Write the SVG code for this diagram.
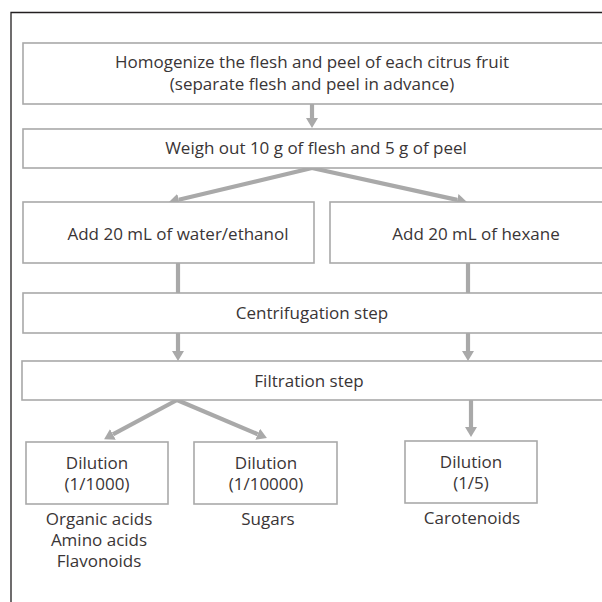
<svg xmlns="http://www.w3.org/2000/svg" width="602" height="602" viewBox="0 0 602 602">
<style>
.box{fill:#ffffff;stroke:#a9a9a9;stroke-width:1.6}
.t{font-family:"Open Sans","Liberation Sans",sans-serif;font-size:17px;fill:#3a3536;text-anchor:middle}
.c{stroke:#a9a9a9;stroke-width:4.2;fill:none}
.frame{stroke:#231f20;stroke-width:1.3;fill:none}
</style>
<defs>
<marker id="ah" markerUnits="userSpaceOnUse" viewBox="0 0 10 12" markerWidth="10" markerHeight="12" refX="0" refY="6" orient="auto">
<path d="M0,0 L10,6 L0,12 z" fill="#a9a9a9"/>
</marker>
</defs>
<rect width="602" height="602" fill="#ffffff"/>
<path class="frame" d="M11,602 V12.5 H602"/>
<g id="connectors">
<line class="c" x1="312" y1="104" x2="312" y2="118" marker-end="url(#ah)"/>
<line class="c" x1="312" y1="168" x2="178.7" y2="199.7" marker-end="url(#ah)"/>
<line class="c" x1="312" y1="168" x2="457.2" y2="199.9" marker-end="url(#ah)"/>
<line class="c" x1="178" y1="263" x2="178" y2="293"/>
<line class="c" x1="468" y1="263" x2="468" y2="293"/>
<line class="c" x1="178" y1="333" x2="178" y2="351" marker-end="url(#ah)"/>
<line class="c" x1="468" y1="333" x2="468" y2="351" marker-end="url(#ah)"/>
<line class="c" x1="177" y1="400" x2="112.9" y2="434.4" marker-end="url(#ah)"/>
<line class="c" x1="177" y1="400" x2="257.7" y2="434.2" marker-end="url(#ah)"/>
<line class="c" x1="471" y1="400" x2="471" y2="427" marker-end="url(#ah)"/>
</g>
<g id="homogenize">
<rect class="box" x="23" y="43" width="600" height="61"/>
<text class="t" x="312" y="68">Homogenize the flesh and peel of each citrus fruit</text>
<text class="t" x="312" y="90">(separate flesh and peel in advance)</text>
</g>
<g id="weigh">
<rect class="box" x="23" y="129" width="600" height="39"/>
<text class="t" x="316" y="154">Weigh out 10 g of flesh and 5 g of peel</text>
</g>
<g id="add-water-ethanol">
<rect class="box" x="23" y="202" width="291" height="61"/>
<text class="t" x="178" y="240">Add 20 mL of water/ethanol</text>
</g>
<g id="add-hexane">
<rect class="box" x="330" y="202" width="300" height="61"/>
<text class="t" x="476" y="240">Add 20 mL of hexane</text>
</g>
<g id="centrifugation">
<rect class="box" x="23" y="293" width="600" height="40"/>
<text class="t" x="312" y="319">Centrifugation step</text>
</g>
<g id="filtration">
<rect class="box" x="22" y="361" width="600" height="39"/>
<text class="t" x="309" y="387">Filtration step</text>
</g>
<g id="dilution-1000">
<rect class="box" x="26" y="442" width="142" height="62"/>
<text class="t" x="97" y="469">Dilution</text>
<text class="t" x="97" y="490">(1/1000)</text>
<text class="t" x="99" y="525">Organic acids</text>
<text class="t" x="99" y="546">Amino acids</text>
<text class="t" x="99" y="567">Flavonoids</text>
</g>
<g id="dilution-10000">
<rect class="box" x="194" y="442" width="143" height="62"/>
<text class="t" x="266" y="469">Dilution</text>
<text class="t" x="266" y="490">(1/10000)</text>
<text class="t" x="268" y="525">Sugars</text>
</g>
<g id="dilution-5">
<rect class="box" x="405" y="441" width="132" height="62"/>
<text class="t" x="471" y="468">Dilution</text>
<text class="t" x="471" y="489">(1/5)</text>
<text class="t" x="472" y="524">Carotenoids</text>
</g>
</svg>
